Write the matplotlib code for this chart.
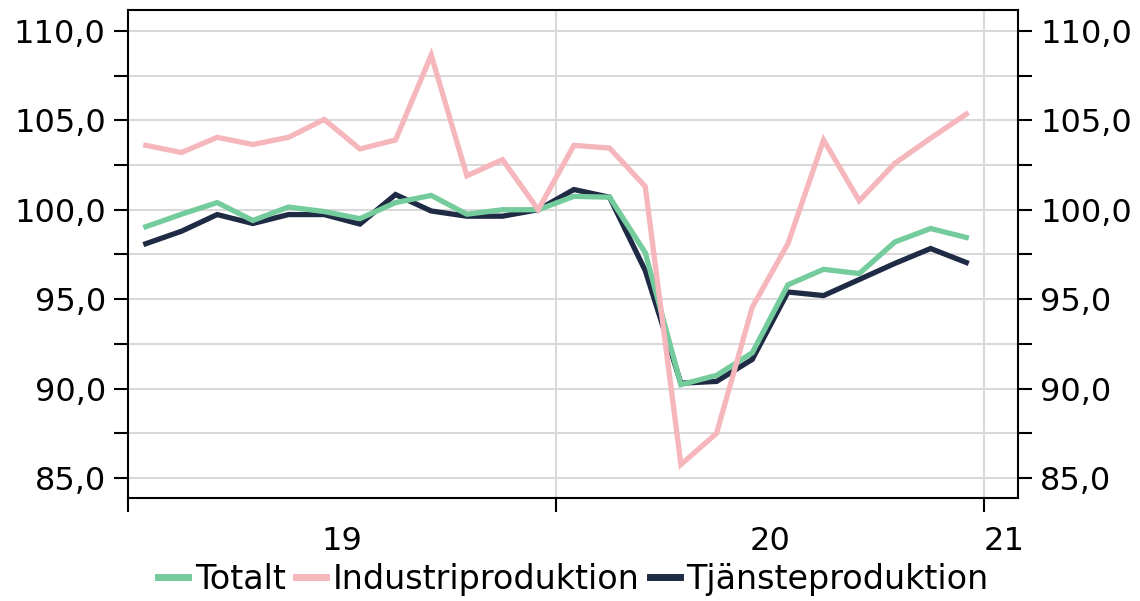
import matplotlib
matplotlib.use("Agg")
import matplotlib.pyplot as plt
from matplotlib.ticker import FixedLocator, NullFormatter, FuncFormatter

plt.rcParams['font.family'] = ['DejaVu Sans']

# Monthly data, Jan 2019 - Dec 2020
months = list(range(24))
totalt = [99.05, 99.75, 100.4, 99.4, 100.15, 99.9, 99.5, 100.4, 100.8, 99.75, 100.0, 100.0,
          100.75, 100.7, 97.6, 90.22, 90.74, 92.0, 95.8, 96.67, 96.43, 98.2, 98.95, 98.45]
industri = [103.6, 103.2, 104.05, 103.65, 104.05, 105.05, 103.4, 103.9, 108.65, 101.9, 102.8, 100.0,
            103.6, 103.45, 101.3, 85.75, 87.5, 94.55, 98.1, 103.9, 100.5, 102.6, 104.0, 105.35]
tjanste = [98.1, 98.8, 99.73, 99.23, 99.73, 99.73, 99.2, 100.85, 99.93, 99.64, 99.64, 100.0,
           101.13, 100.7, 96.6, 90.3, 90.4, 91.63, 95.4, 95.2, 96.1, 97.0, 97.83, 97.05]
year_labels = ["19", "20", "21"]
series_names = ["Totalt", "Industriproduktion", "Tjänsteproduktion"]

c_green = "#74cb9c"
c_pink = "#f5b6bc"
c_navy = "#1f2b45"

fig = plt.figure(figsize=(11.4, 6.01), dpi=100)
ax = fig.add_axes([128/1140, 1-498/601, (1018-128)/1140, (498-10)/601])

xs = [m + 0.5 for m in months]
lw = 3.8
l3, = ax.plot(xs, tjanste, color=c_navy, lw=lw, zorder=3, solid_joinstyle='miter')
l1, = ax.plot(xs, totalt, color=c_green, lw=lw, zorder=4, solid_joinstyle='miter')
l2, = ax.plot(xs, industri, color=c_pink, lw=lw, zorder=5, solid_joinstyle='miter')

ax.set_xlim(0, 24.95)
ax.set_ylim(83.88, 111.17)

yt = [85 + 2.5*i for i in range(11)]
ax.yaxis.set_major_locator(FixedLocator(yt))
fmt = FuncFormatter(lambda v, p: (f"{v:.1f}".replace(".", ",")) if abs(v % 5) < 1e-6 else "")
ax.yaxis.set_major_formatter(fmt)
ax.grid(axis='y', color='#d9d9d9', lw=1.5, zorder=0)

ax.xaxis.set_major_locator(FixedLocator([0, 12, 24]))
ax.xaxis.set_major_formatter(NullFormatter())
ax.xaxis.set_minor_locator(FixedLocator([6, 18, 24.56]))
ax.set_xticklabels(year_labels, minor=True)
ax.tick_params(axis='x', which='minor', length=0, labelsize=23, pad=20, colors='black')
ax.tick_params(axis='x', which='major', length=10, width=1.5, direction='out')
for xv in [12, 24]:
    ax.axvline(xv, color='#d9d9d9', lw=1.5, zorder=0)

ax.tick_params(axis='y', which='major', length=10, width=1.5, direction='out',
               labelsize=23, pad=6, left=True, right=True, labelleft=True, labelright=True)

for s in ax.spines.values():
    s.set_linewidth(1.5)
    s.set_color('black')

leg = fig.legend([l1, l2, l3], series_names, loc='lower center', bbox_to_anchor=(0.503, -0.03),
                 ncol=3, frameon=False, fontsize=24, handlelength=0.9, handletextpad=0.2,
                 columnspacing=0.3, borderpad=0.2)
for h in leg.legend_handles:
    h.set_linewidth(5)

fig.savefig("out.png", dpi=100)
